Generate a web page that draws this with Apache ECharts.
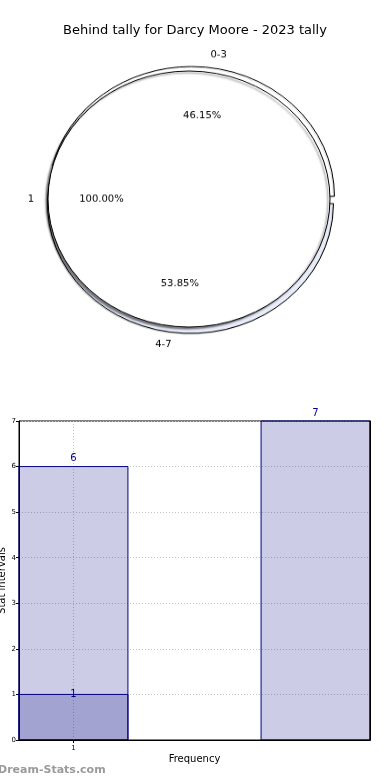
<!DOCTYPE html>
<html><head><meta charset="utf-8">
<script src="https://cdn.jsdelivr.net/npm/echarts@6/dist/echarts.min.js"></script>
<style>
html,body{margin:0;padding:0;background:#fff;}
#main{position:absolute;left:0;top:0;width:390px;height:780px;}
#pie{position:absolute;left:0;top:1px;width:390px;height:400px;transform:scaleY(0.908);transform-origin:0 198px;}
</style></head><body>
<div id="main"></div><div id="pie"></div>
<script>
// ---- data ----
const titleText = 'Behind tally for Darcy Moore - 2023 tally';
const outerNames = ['0-3', '4-7'];
const outerValues = [6, 7];
const innerNames = ['1'];
const innerValues = [13];
const barX = [1, 3];
const barY = [6, 7];
const overlayX = [1];
const overlayY = [1];
const xTickValues = [1];
const xAxisName = 'Frequency';
const yAxisName = 'Stat intervals';
const watermark = 'Dream-Stats.com';

// ---- styles ----
const FONT = 'DejaVu Sans';
const outerColors = ['#ffffff', '#e8edf9'];
const R_IN = 141, R_OUT = 143;
const BAR_W = 0.9;
const pct = p => p.percent.toFixed(2) + '%';

// ---- pie ----
const pie = echarts.init(document.getElementById('pie'), null, {renderer: 'canvas'});
const common = {type: 'pie', startAngle: 0, clockwise: false, avoidLabelOverlap: false, silent: true, animation: false,
  emphasis: {disabled: true}};
const outerLabel = {show: true, position: 'outside', formatter: '{b}', color: '#000', fontSize: 10, fontFamily: FONT, distanceToLabelLine: 0};
pie.setOption({
  backgroundColor: 'transparent',
  animation: false,
  series: [
    Object.assign({}, common, {
      z: 1, center: [191, 199], radius: [0, R_OUT], selectedMode: 'multiple', selectedOffset: 4,
      data: outerNames.map((n, i) => ({name: n, value: outerValues[i], selected: true, itemStyle: {color: outerColors[i]}})),
      itemStyle: {borderColor: '#000', borderWidth: 1, shadowColor: 'rgba(0,0,0,0.15)', shadowBlur: 1, shadowOffsetX: -1, shadowOffsetY: 1},
      select: {itemStyle: {borderColor: '#000', borderWidth: 1}},
      label: outerLabel,
      labelLine: {show: false, length: 14, length2: 0}
    }),
    Object.assign({}, common, {
      z: 2, center: [189, 198], radius: [0, R_IN],
      data: innerNames.map((n, i) => ({name: n, value: innerValues[i]})),
      itemStyle: {color: '#fff', borderColor: '#000', borderWidth: 1, shadowColor: 'rgba(0,0,0,0.5)', shadowBlur: 2, shadowOffsetX: -2, shadowOffsetY: 2},
      label: outerLabel,
      labelLine: {show: false, length: 14, length2: 0}
    }),
    Object.assign({}, common, {
      z: 3, center: [191, 199], radius: [R_OUT * 0.2, R_OUT], selectedMode: 'multiple', selectedOffset: 4,
      data: outerNames.map((n, i) => ({name: n, value: outerValues[i], selected: true})),
      itemStyle: {color: 'rgba(0,0,0,0)', borderWidth: 0},
      select: {itemStyle: {color: 'rgba(0,0,0,0)', borderWidth: 0}},
      label: {show: true, position: 'inside', formatter: pct, color: '#000', fontSize: 10, fontFamily: FONT},
      labelLine: {show: false}
    }),
    Object.assign({}, common, {
      z: 3, center: [189, 198], radius: [R_IN * 0.2, R_IN],
      data: innerNames.map((n, i) => ({name: n, value: innerValues[i]})),
      itemStyle: {color: 'rgba(0,0,0,0)', borderWidth: 0},
      label: {show: true, position: 'inside', formatter: pct, color: '#000', fontSize: 10, fontFamily: FONT},
      labelLine: {show: false}
    })
  ]
});

// ---- bars ----
function makeRender(fill, labelMode) {
  return function (params, api) {
    const x = api.value(0), y = api.value(1);
    const p0 = api.coord([x - BAR_W / 2, y]);
    const p1 = api.coord([x + BAR_W / 2, 0]);
    const cx = (p0[0] + p1[0]) / 2;
    return {
      type: 'group',
      children: [
        {type: 'rect', shape: {x: p0[0], y: p0[1], width: p1[0] - p0[0], height: p1[1] - p0[1]},
          style: {fill: fill, stroke: '#000080', lineWidth: 1}},
        {type: 'text', x: cx, y: labelMode === 'above' ? p0[1] - 3 : p0[1],
          style: {text: String(y), fill: '#00008b', font: '10px "' + FONT + '"', align: 'center',
            verticalAlign: labelMode === 'above' ? 'bottom' : 'middle'}}
      ]
    };
  };
}
const main = echarts.init(document.getElementById('main'), null, {renderer: 'canvas'});
const axisFont = {fontFamily: FONT, fontSize: 10, color: '#000'};
const gridLine = {show: true, lineStyle: {color: '#c4c4c4', type: [1, 2], width: 1}};
const frameAxis = {axisLine: {show: true, lineStyle: {color: '#000', width: 1}}, axisTick: {show: false},
  axisLabel: {show: false}, splitLine: {show: false}, z: 10};
main.setOption({
  backgroundColor: '#fff',
  animation: false,
  title: {text: titleText, left: 'center', top: 24, padding: 0,
    textStyle: {fontFamily: FONT, fontSize: 13, fontWeight: 'normal', color: '#000'}},
  grid: {left: 19, right: 20, top: 421, bottom: 40, show: true, borderColor: '#000', borderWidth: 1,
    containLabel: false, outerBoundsMode: 'none'},
  xAxis: [{type: 'value', min: 0.55, max: 3.45, name: xAxisName, nameLocation: 'middle', nameGap: 14,
    nameMoveOverlap: false, nameTextStyle: axisFont,
    axisLine: {show: true, onZero: false, lineStyle: {color: '#000', width: 1}},
    axisTick: {show: true, customValues: xTickValues, length: 3, lineStyle: {color: '#000'}},
    axisLabel: {customValues: xTickValues, fontSize: 7, fontFamily: FONT, color: '#000', margin: 5},
    splitLine: gridLine},
    Object.assign({type: 'value', min: 0.55, max: 3.45, position: 'top'}, frameAxis)],
  yAxis: [{type: 'value', min: 0, max: 7, interval: 1, name: yAxisName, nameLocation: 'middle', nameGap: 12,
    nameRotate: 90, nameMoveOverlap: false, nameTextStyle: axisFont,
    axisLine: {show: true, lineStyle: {color: '#000', width: 1}},
    axisTick: {show: true, length: 3, lineStyle: {color: '#000'}},
    axisLabel: {fontSize: 7, fontFamily: FONT, color: '#000', margin: 3},
    splitLine: gridLine},
    Object.assign({type: 'value', min: 0, max: 7, position: 'right'}, frameAxis)],
  series: [
    {type: 'custom', z: 2, renderItem: makeRender('rgba(0,0,128,0.2)', 'above'),
      data: barX.map((x, i) => [x, barY[i]]), silent: true},
    {type: 'custom', z: 3, renderItem: makeRender('rgba(0,0,128,0.2)', 'middle'),
      data: overlayX.map((x, i) => [x, overlayY[i]]), silent: true}
  ],
  graphic: [{type: 'text', left: -2, top: 765, silent: true,
    style: {text: watermark, fill: '#9a9a9a', font: 'bold 11px "' + FONT + '"'}}]
});
</script>
</body></html>
